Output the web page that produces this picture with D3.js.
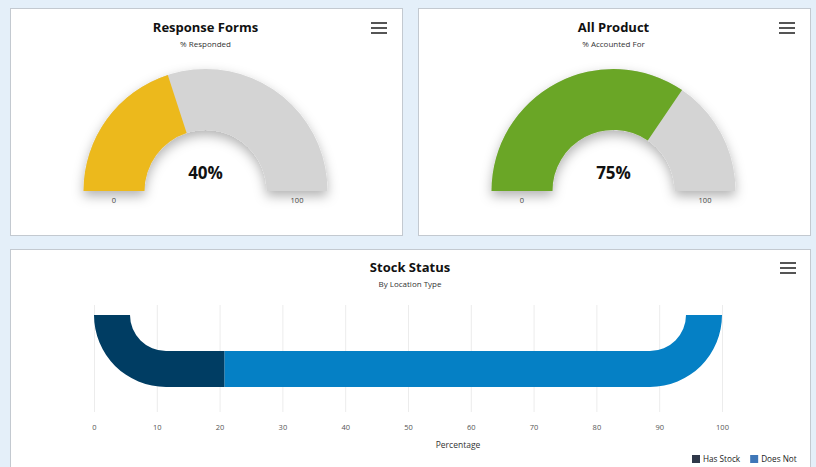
<!DOCTYPE html>
<html>
<head>
<meta charset="utf-8">
<script src="https://cdn.jsdelivr.net/npm/d3@7"></script>
<style>
  html, body { margin: 0; padding: 0; background: #e4eff9; }
  svg { display: block; font-family: "Open Sans", sans-serif; }
</style>
</head>
<body>
<svg id="chart" width="816" height="467"></svg>
<script>
// gauge data
const gaugeTitles = ["Response Forms", "All Product"];
const gaugeSubtitles = ["% Responded", "% Accounted For"];
const gaugeLabels = [40, 75];
// how far each arc is actually filled in the picture
const gaugeFill = [40, 69];
const gaugeColors = ["#ecb91f", "#6ba626"];
const gaugeMin = 0;
const gaugeMax = 100;

// stock status data
const stockSeries = ["Has Stock", "Does Not"];
const stockValues = [20.8, 79.2];
const stockColors = ["#003d63", "#0580c5"];
const stockLegendColors = ["#2f3849", "#3f77b8"];
const xTicks = [0, 10, 20, 30, 40, 50, 60, 70, 80, 90, 100];

const svg = d3.select("#chart");

const defs = svg.append("defs");
defs.append("filter")
  .attr("id", "shadow")
  .attr("x", "-20%").attr("y", "-20%")
  .attr("width", "140%").attr("height", "150%")
  .append("feDropShadow")
  .attr("dx", 0).attr("dy", 5)
  .attr("stdDeviation", 6)
  .attr("flood-color", "#000")
  .attr("flood-opacity", 0.3);

// panels
const panels = [
  { x: 10, y: 8, w: 392, h: 227 },
  { x: 418, y: 8, w: 392, h: 227 },
  { x: 10, y: 249, w: 800, h: 230 }
];
svg.selectAll("rect.panel")
  .data(panels)
  .enter()
  .append("rect")
  .attr("class", "panel")
  .attr("x", d => d.x + 0.5)
  .attr("y", d => d.y + 0.5)
  .attr("width", d => d.w)
  .attr("height", d => d.h)
  .attr("fill", "#fff")
  .attr("stroke", "#c3c9d0");

function drawMenu(g, cx, cy) {
  [-5, 0, 5].forEach(dy => {
    g.append("rect")
      .attr("x", cx - 8).attr("y", cy + dy - 1)
      .attr("width", 16).attr("height", 2)
      .attr("fill", "#555");
  });
}

function drawTitle(cx, title, subtitle, ty) {
  svg.append("text")
    .attr("x", cx).attr("y", ty)
    .attr("text-anchor", "middle")
    .attr("font-size", 13).attr("font-weight", 700)
    .attr("fill", "#111")
    .text(title);
  svg.append("text")
    .attr("x", cx).attr("y", ty + 15)
    .attr("text-anchor", "middle")
    .attr("font-size", 8)
    .attr("fill", "#333")
    .text(subtitle);
}

// gauges
const angle = d3.scaleLinear()
  .domain([gaugeMin, gaugeMax])
  .range([-Math.PI / 2, Math.PI / 2]);
const outerR = 122;
const innerR = 61;
const arc = d3.arc().innerRadius(innerR).outerRadius(outerR);

gaugeLabels.forEach((v, i) => {
  const p = panels[i];
  const cx = p.x + p.w / 2 - 0.5;
  const cy = 191;
  drawTitle(cx, gaugeTitles[i], gaugeSubtitles[i], 32);
  drawMenu(svg, p.x + p.w - 23, 28);

  const g = svg.append("g").attr("transform", `translate(${cx},${cy})`);
  const ga = g.append("g").attr("filter", "url(#shadow)");
  ga.append("path")
    .attr("d", arc({ startAngle: angle(gaugeMin), endAngle: angle(gaugeMax) }))
    .attr("fill", "#d4d4d4");
  ga.append("path")
    .attr("d", arc({ startAngle: angle(gaugeMin), endAngle: angle(gaugeFill[i]) }))
    .attr("fill", gaugeColors[i]);

  g.append("text")
    .attr("x", 0).attr("y", -12)
    .attr("text-anchor", "middle")
    .attr("font-size", 17).attr("font-weight", 700)
    .attr("fill", "#111")
    .text(v + "%");

  const mid = (innerR + outerR) / 2;
  [gaugeMin, gaugeMax].forEach((t, k) => {
    g.append("text")
      .attr("x", k === 0 ? -mid : mid).attr("y", 12)
      .attr("text-anchor", "middle")
      .attr("font-size", 7.5)
      .attr("fill", "#444")
      .text(t);
  });
});

// stock status
drawTitle(410, "Stock Status", "By Location Type", 272);
drawMenu(svg, 788, 268);

const x = d3.scaleLinear().domain([0, 100]).range([94, 722]);
const yTop = 315;
const thick = 36;
const rad = thick * 2;
const yBot = yTop + rad;

const grid = svg.append("g");
grid.selectAll("line")
  .data(xTicks)
  .enter()
  .append("line")
  .attr("x1", d => x(d) + 0.5).attr("x2", d => x(d) + 0.5)
  .attr("y1", 305).attr("y2", 412)
  .attr("stroke", "#ececec");

const xAxis = svg.append("g")
  .attr("transform", "translate(0,412)")
  .call(d3.axisBottom(x).tickValues(xTicks).tickSize(0).tickPadding(13));
xAxis.select(".domain").remove();
xAxis.selectAll("text")
  .attr("font-family", "Open Sans, sans-serif")
  .attr("font-size", 7.5)
  .attr("fill", "#555");

svg.append("text")
  .attr("x", 458).attr("y", 448)
  .attr("text-anchor", "middle")
  .attr("font-size", 8.5)
  .attr("fill", "#333")
  .text("Percentage");

// u-shaped pipe built from the x scale
const x0 = x(0), x1 = x(100);
const pipe = [
  `M${x0},${yTop}`,
  `A${rad},${rad} 0 0 0 ${x0 + rad},${yBot}`,
  `L${x1 - rad},${yBot}`,
  `A${rad},${rad} 0 0 0 ${x1},${yTop}`,
  `L${x1 - thick},${yTop}`,
  `A${thick},${thick} 0 0 1 ${x1 - rad},${yTop + thick}`,
  `L${x0 + rad},${yTop + thick}`,
  `A${thick},${thick} 0 0 1 ${x0 + thick},${yTop}`,
  "Z"
].join(" ");

const cum = d3.cumsum(stockValues);
stockValues.forEach((v, i) => {
  const start = cum[i] - v;
  const end = cum[i];
  defs.append("clipPath")
    .attr("id", "clip" + i)
    .append("rect")
    .attr("x", x(start)).attr("y", yTop - 5)
    .attr("width", x(end) - x(start)).attr("height", rad + 10);
  svg.append("path")
    .attr("d", pipe)
    .attr("clip-path", `url(#clip${i})`)
    .attr("fill", stockColors[i]);
});

// legend
const legend = svg.append("g");
let lx = 692;
stockSeries.forEach((s, i) => {
  legend.append("rect")
    .attr("x", lx).attr("y", 455)
    .attr("width", 8).attr("height", 8)
    .attr("fill", stockLegendColors[i]);
  const t = legend.append("text")
    .attr("x", lx + 11).attr("y", 462)
    .attr("font-size", 8.2)
    .attr("fill", "#222")
    .text(s);
  lx += 11 + t.node().getComputedTextLength() + 10;
});
</script>
</body>
</html>
